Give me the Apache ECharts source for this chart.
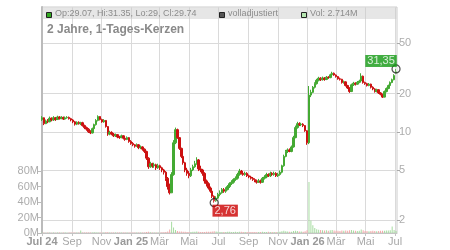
<!DOCTYPE html>
<html>
<head>
<meta charset="utf-8">
<script src="https://cdn.jsdelivr.net/npm/echarts@6/dist/echarts.min.js"></script>
<style>
  html, body { margin: 0; padding: 0; background: #fff; }
  #chart { width: 450px; height: 250px; }
</style>
</head>
<body>
<div id="chart"></div>
<script>
// Kerzen alle 4 Kalendertage ab 01.07.2024
const startDay = [2024, 6, 1];
const endDay = [2026, 6, 5];
const stepDays = 4;

// [open, close, low, high]
const ohlc = [
  [12.5,12.9,12.2,13.3],[12.9,11.6,11.3,13.0],[11.6,12.2,11.5,12.5],[12.2,12.0,11.7,12.6],
  [12.0,12.8,11.9,13.2],[12.8,12.4,12.1,13.0],[12.4,12.9,12.2,13.3],[12.9,12.5,12.2,13.1],
  [12.5,13.1,12.4,13.4],[13.1,12.7,12.5,13.3],[12.7,13.0,12.6,13.3],[13.0,12.6,12.4,13.2],
  [12.6,12.9,12.5,13.2],[12.9,13.0,12.7,13.3],[13.0,12.7,12.5,13.2],[12.7,12.4,12.1,12.9],
  [12.4,12.0,11.7,12.6],[12.0,11.5,11.2,12.2],[11.5,11.9,11.3,12.1],[11.9,11.6,11.4,12.1],
  [11.6,11.8,11.3,12.0],[11.8,11.2,11.0,12.0],[11.2,10.8,10.5,11.4],[10.8,10.5,10.2,11.0],
  [10.5,10.0,9.8,10.7],[10.0,9.8,9.6,10.3],[9.8,10.6,9.7,10.8],[10.6,11.4,10.4,11.6],
  [11.4,12.3,11.2,12.6],[12.3,13.2,12.1,13.5],[13.2,12.5,12.3,13.3],[12.5,12.0,11.8,12.7],
  [12.0,12.3,11.8,12.6],[12.3,11.0,10.8,12.4],[11.0,9.6,9.3,11.1],[9.6,9.9,9.4,10.2],
  [9.9,9.6,9.4,10.1],[9.6,9.3,9.1,9.8],[9.3,9.5,9.1,9.7],[9.5,9.1,8.9,9.6],
  [9.1,9.0,8.8,9.3],[9.0,9.3,8.9,9.5],[9.3,8.9,8.7,9.4],[8.9,8.7,8.5,9.1],
  [8.7,9.0,8.6,9.2],[9.0,8.4,8.2,9.1],[8.4,8.1,7.9,8.6],[8.1,7.9,7.7,8.3],
  [7.9,7.7,7.5,8.0],[7.7,7.9,7.6,8.1],[7.9,7.5,7.3,8.0],[7.5,7.6,7.3,7.8],
  [7.6,7.3,7.1,7.7],[7.3,7.0,6.8,7.4],[7.0,6.2,6.0,7.1],[6.2,5.3,5.1,6.3],
  [5.3,5.6,5.2,5.8],[5.6,5.4,5.2,5.7],[5.4,5.5,5.2,5.7],[5.5,5.2,5.0,5.6],
  [5.2,5.4,5.1,5.6],[5.4,5.2,5.0,5.5],[5.2,5.0,4.8,5.3],[5.0,4.8,4.6,5.1],
  [4.8,4.3,4.1,4.9],[4.3,3.7,3.5,4.4],[3.7,3.3,3.2,3.9],[3.3,4.6,3.3,4.8],
  [4.6,8.2,4.5,8.6],[8.2,10.4,8.0,10.8],[10.4,9.0,8.8,10.6],[9.0,7.4,7.2,9.1],
  [7.4,6.4,6.2,7.5],[6.4,5.7,5.5,6.6],[5.7,5.0,4.8,5.8],[5.0,4.7,4.5,5.2],
  [4.7,4.5,4.3,4.9],[4.5,5.0,4.4,5.2],[5.0,5.3,4.9,5.5],[5.3,5.6,5.2,5.9],
  [5.6,6.0,5.5,6.3],[6.0,5.1,4.9,6.1],[5.1,5.0,4.8,5.4],[5.0,4.7,4.5,5.1],
  [4.7,4.1,3.9,4.8],[4.1,3.9,3.7,4.2],[3.9,3.6,3.5,4.0],[3.6,3.4,3.3,3.7],
  [3.4,3.1,3.0,3.5],[3.1,2.85,2.76,3.15],[2.85,3.0,2.8,3.1],[3.0,3.2,2.95,3.3],
  [3.2,3.3,3.1,3.45],[3.3,3.5,3.25,3.6],[3.5,3.4,3.3,3.6],[3.4,3.5,3.3,3.65],
  [3.5,3.7,3.45,3.8],[3.7,3.9,3.6,4.0],[3.9,4.0,3.8,4.15],[4.0,4.2,3.9,4.3],
  [4.2,4.3,4.1,4.45],[4.3,4.6,4.2,4.75],[4.6,4.9,4.5,5.1],[4.9,4.7,4.6,5.0],
  [4.7,4.6,4.5,4.85],[4.6,4.7,4.5,4.85],[4.7,4.5,4.4,4.8],[4.5,4.4,4.3,4.6],
  [4.4,4.3,4.2,4.5],[4.3,4.2,4.1,4.4],[4.2,4.1,4.0,4.3],[4.1,4.0,3.9,4.2],
  [4.0,4.1,3.95,4.25],[4.1,4.0,3.9,4.2],[4.0,4.3,3.95,4.4],[4.3,4.4,4.2,4.55],
  [4.4,4.6,4.3,4.75],[4.6,4.5,4.4,4.7],[4.5,4.7,4.4,4.85],[4.7,4.6,4.5,4.8],
  [4.6,4.7,4.5,4.85],[4.7,4.5,4.4,4.8],[4.5,4.6,4.4,4.75],[4.6,4.8,4.5,4.95],
  [4.8,5.4,4.7,5.5],[5.4,6.4,5.3,6.6],[6.4,7.0,6.3,7.2],[7.0,7.2,6.8,7.4],
  [7.2,7.0,6.9,7.4],[7.0,7.6,6.9,7.8],[7.6,9.0,7.5,9.3],[9.0,10.8,8.9,11.2],
  [10.8,11.6,10.6,12.0],[11.6,11.4,11.1,11.9],[11.4,11.5,11.1,11.8],[11.5,11.2,10.9,11.7],
  [11.2,10.2,10.0,11.3],[10.2,8.2,7.9,10.3],[8.2,19.5,8.0,23.0],[19.5,20.5,18.8,21.5],
  [20.5,22.5,20.2,23.0],[22.5,24.0,22.0,24.6],[24.0,25.5,23.6,26.2],[25.5,26.5,25.0,27.2],
  [26.5,25.8,25.2,27.0],[25.8,26.6,25.4,27.3],[26.6,25.9,25.3,27.0],[25.9,27.0,25.6,27.6],
  [27.0,26.8,26.2,27.5],[26.8,28.2,26.5,28.8],[28.2,29.0,27.8,29.8],[29.0,28.1,27.7,29.4],
  [28.1,27.3,26.8,28.4],[27.3,26.2,25.8,27.6],[26.2,26.0,25.4,26.8],[26.0,24.5,24.0,26.2],
  [24.5,24.8,24.0,25.4],[24.8,23.2,22.8,25.0],[23.2,22.2,21.8,23.5],[22.2,20.8,20.3,22.5],
  [20.8,23.5,20.6,24.0],[23.5,24.2,23.0,24.8],[24.2,23.8,23.2,24.6],[23.8,24.6,23.5,25.2],
  [24.6,25.2,24.2,25.8],[25.2,27.5,25.0,29.0],[27.5,24.5,24.0,27.8],[24.5,24.0,23.5,24.9],
  [24.0,23.2,22.8,24.4],[23.2,23.8,22.9,24.3],[23.8,22.5,22.0,24.0],[22.5,21.8,21.3,22.9],
  [21.8,20.8,20.4,22.1],[20.8,21.5,20.5,21.9],[21.5,20.3,19.9,21.7],[20.3,19.8,19.4,20.6],
  [19.8,18.8,18.5,20.0],[18.8,20.8,18.7,21.2],[20.8,22.0,20.5,22.4],[22.0,23.2,21.7,23.6],
  [23.2,24.5,22.9,25.0],[24.5,25.8,24.2,26.3],[25.8,27.8,25.5,28.5],[29.07,29.74,29.0,31.35]
];

// Volumen in Mio.
const volumes = [
  0.6,0.5,0.4,0.5,0.6,0.4,0.5,0.4,0.6,0.5,0.4,0.5,0.6,0.4,0.5,0.5,0.6,0.7,0.5,0.6,
  3.2,
  0.7,0.6,0.5,0.6,0.8,0.7,0.9,0.8,0.7,0.6,0.5,0.7,0.9,1.0,0.7,0.6,0.5,0.6,0.5,
  0.5,0.6,0.5,0.5,0.6,0.7,0.6,0.5,0.6,0.5,0.6,0.5,0.7,0.8,1.2,1.5,0.9,0.8,0.7,0.8,
  0.7,0.8,0.9,1.0,1.3,1.8,
  4.5,14.5,7.0,4.0,2.5,
  2.0,1.8,1.6,1.5,1.3,1.2,1.4,1.6,1.5,1.8,1.6,1.3,1.2,1.4,1.5,1.6,1.7,1.8,2.2,1.8,
  1.5,1.3,1.2,1.4,1.3,1.5,1.6,1.4,1.3,1.5,1.4,1.7,1.5,1.3,1.2,1.4,1.3,1.2,1.3,1.2,
  1.1,1.2,1.3,1.5,1.4,1.3,1.5,1.4,1.2,1.3,1.4,1.3,1.5,2.2,2.8,2.4,1.8,1.6,1.7,2.5,
  3.0,2.6,2.0,1.8,1.7,2.2,3.5,
  66,16,10,6.5,5.0,
  4.2,3.8,3.5,3.2,3.6,3.0,3.4,3.8,3.1,2.8,3.0,2.7,3.2,2.9,3.3,3.0,3.6,3.9,
  3.2,2.8,2.6,2.9,4.5,3.4,2.7,2.5,2.4,2.6,2.8,2.5,2.3,2.6,2.8,3.0,2.9,3.1,3.3,3.6,
  8.5,4.0,2.714
];

const monthNames = ['Jan', 'Feb', 'Mär', 'Apr', 'Mai', 'Jun', 'Jul', 'Aug', 'Sep', 'Okt', 'Nov', 'Dez'];
const xTicks = ['2024-07-01', '2024-09-01', '2024-11-01', '2025-01-01', '2025-03-01', '2025-05-01',
  '2025-07-01', '2025-09-01', '2025-11-01', '2026-01-01', '2026-03-01', '2026-05-01', '2026-07-01'];
const priceTicks = [2, 5, 10, 20, 50];
const volTicks = [0, 20, 40, 60, 80];
const priceRange = [1.59, 96.7];
const volMax = 292;

const titleText = '2 Jahre, 1-Tages-Kerzen';
const legendTexts = ['Op:29.07, Hi:31.35, Lo:29, Cl:29.74', 'volladjustiert', 'Vol: 2.714M'];

const UP = '#44aa33', DOWN = '#cc1111';
const VOL_UP = '#a6dca0', VOL_DOWN = '#f2a8a8';
const FONT = '"Liberation Sans", Arial, sans-serif';

const dayMs = 86400000;
const t0 = new Date(startDay[0], startDay[1], startDay[2]).getTime();
const tEnd = new Date(endDay[0], endDay[1], endDay[2]).getTime();
const dates = ohlc.map((d, i) => t0 + i * stepDays * dayMs);
const xTickVals = xTicks.map(s => {
  const p = s.split('-');
  return new Date(+p[0], +p[1] - 1, +p[2]).getTime();
});

// Hoch / Tief
let hiIdx = 0, loIdx = 0;
ohlc.forEach((d, i) => {
  if (d[3] > ohlc[hiIdx][3]) hiIdx = i;
  if (d[2] < ohlc[loIdx][2]) loIdx = i;
});
const deNum = v => String(v).replace('.', ',');

function fmtX(value) {
  const d = new Date(value);
  const m = d.getMonth();
  if (m === 0 || value === t0) {
    return '{b|' + monthNames[m] + ' ' + String(d.getFullYear()).slice(2) + '}';
  }
  return monthNames[m];
}

const chart = echarts.init(document.getElementById('chart'), null, { renderer: 'canvas' });

chart.setOption({
  animation: false,
  textStyle: { fontFamily: FONT },
  grid: {
    left: 42, right: 53, top: 7, bottom: 17,
    show: true, borderColor: '#cccccc', borderWidth: 1
  },
  xAxis: {
    type: 'value',
    min: t0,
    max: tEnd,
    axisLine: { lineStyle: { color: '#c4c4c4' } },
    axisTick: { show: true, length: 3, customValues: xTickVals, lineStyle: { color: '#c4c4c4' } },
    axisLabel: {
      customValues: xTickVals,
      formatter: fmtX,
      hideOverlap: false,
      color: '#a8a8a8',
      fontSize: 11,
      margin: 3,
      rich: { b: { fontWeight: 'bold', color: '#9a9a9a', fontSize: 11, fontFamily: FONT } }
    },
    splitLine: { show: true, lineStyle: { color: '#dadada' } }
  },
  yAxis: [
    {
      // Volumen
      type: 'value',
      position: 'left',
      min: 0,
      max: volMax,
      axisLine: { show: true, lineStyle: { color: '#bbbbbb', width: 2 } },
      axisTick: { show: true, length: 4, customValues: volTicks, lineStyle: { color: '#bbbbbb' } },
      axisLabel: { customValues: volTicks, formatter: v => v + 'M', color: '#adadad', fontSize: 11, margin: 3 },
      splitLine: { show: false }
    },
    {
      // Kurs (log)
      type: 'log',
      logBase: 10,
      min: priceRange[0],
      max: priceRange[1],
      show: false,
      splitLine: { show: false }
    },
    {
      // Beschriftung Kursachse
      type: 'value',
      position: 'right',
      min: Math.log10(priceRange[0]),
      max: Math.log10(priceRange[1]),
      axisLine: { show: false },
      axisTick: { show: true, length: 3, customValues: priceTicks.map(Math.log10), lineStyle: { color: '#aaaaaa' } },
      axisLabel: {
        customValues: priceTicks.map(Math.log10),
        formatter: v => String(Math.round(Math.pow(10, v))),
        color: '#adadad', fontSize: 11, margin: 2
      },
      splitLine: { show: true, lineStyle: { color: '#dadada' } }
    }
  ],
  series: [
    {
      type: 'bar',
      name: 'Vol',
      yAxisIndex: 0,
      barWidth: 1,
      silent: true,
      z: 1,
      data: volumes.map((v, i) => ({
        value: [dates[i], v],
        itemStyle: { color: ohlc[i][1] >= ohlc[i][0] ? VOL_UP : VOL_DOWN }
      }))
    },
    {
      type: 'candlestick',
      name: 'Kurs',
      yAxisIndex: 1,
      barWidth: 2,
      z: 3,
      encode: { x: 0, y: [1, 2, 3, 4] },
      itemStyle: { color: UP, color0: DOWN, borderColor: UP, borderColor0: DOWN, borderWidth: 1 },
      data: ohlc.map((d, i) => [dates[i], d[0], d[1], d[2], d[3]])
    },
    {
      type: 'scatter',
      yAxisIndex: 1,
      symbol: 'circle',
      symbolSize: 8,
      z: 5,
      itemStyle: { color: 'rgba(255,255,255,0.25)', borderColor: '#222', borderWidth: 1.2 },
      data: [
        {
          value: [dates[hiIdx], ohlc[hiIdx][3]],
          label: {
            show: true, position: 'inside', offset: [-15, -8],
            formatter: () => deNum(ohlc[hiIdx][3]),
            backgroundColor: '#119911', color: '#fff', fontSize: 11, padding: [1, 2, 0, 2]
          }
        },
        {
          value: [dates[loIdx], ohlc[loIdx][2]],
          label: {
            show: true, position: 'inside', offset: [11, 8],
            formatter: () => deNum(ohlc[loIdx][2]),
            backgroundColor: '#cc0000', color: '#fff', fontSize: 11, padding: [1, 2, 0, 2]
          }
        }
      ]
    }
  ],
  graphic: [
    { type: 'rect', z: 10, shape: { x: 42, y: 7.5, width: 354.5, height: 11.5 }, style: { fill: 'rgba(200,200,200,0.45)' } },
    { type: 'rect', z: 11, shape: { x: 46.5, y: 12.5, width: 5, height: 5 }, style: { fill: '#33aa22', stroke: '#222', lineWidth: 1 } },
    { type: 'text', z: 11, x: 55, y: 13.5, style: { text: legendTexts[0], fill: '#8c8c8c', font: '9px ' + FONT, textVerticalAlign: 'middle' } },
    { type: 'rect', z: 11, shape: { x: 219.5, y: 12.5, width: 5, height: 5 }, style: { fill: '#555555', stroke: '#222', lineWidth: 1 } },
    { type: 'text', z: 11, x: 228, y: 13.5, style: { text: legendTexts[1], fill: '#8c8c8c', font: '9px ' + FONT, textVerticalAlign: 'middle' } },
    { type: 'rect', z: 11, shape: { x: 301.5, y: 12.5, width: 5, height: 5 }, style: { fill: '#b5e6b0', stroke: '#222', lineWidth: 1 } },
    { type: 'text', z: 11, x: 310, y: 13.5, style: { text: legendTexts[2], fill: '#8c8c8c', font: '9px ' + FONT, textVerticalAlign: 'middle' } },
    { type: 'text', z: 11, x: 47, y: 30, style: { text: titleText, fill: '#8a8a8a', font: 'bold 12px ' + FONT, textVerticalAlign: 'middle' } }
  ]
});
</script>
</body>
</html>
